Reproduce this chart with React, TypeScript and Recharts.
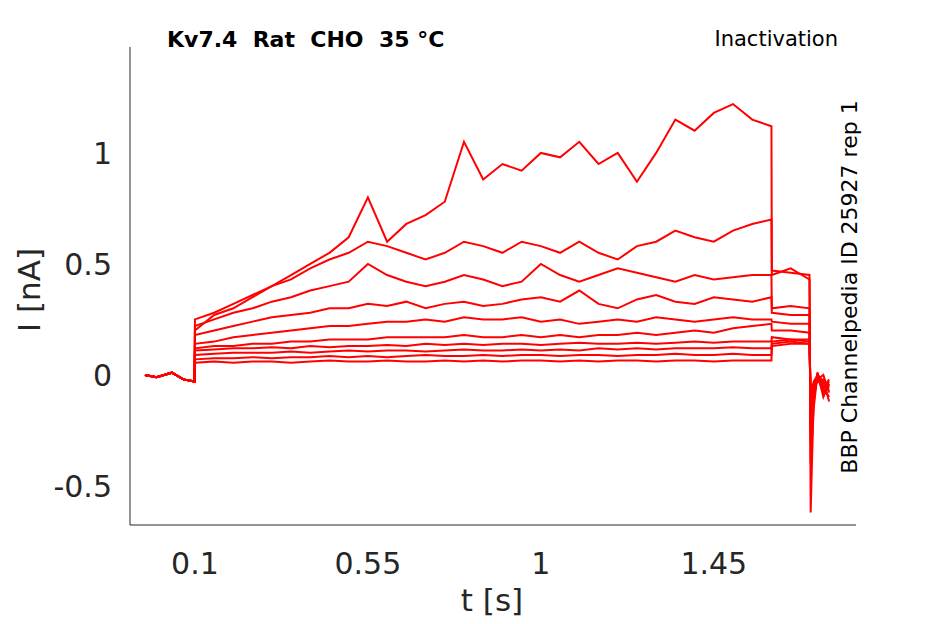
import React from 'react';
import { LineChart, Line, XAxis, YAxis } from 'recharts';

// sample times [s]: pre-pulse, test pulse (0.1..1.6 by 0.05), tail
const preTimes = [-0.03, 0.0, 0.04, 0.07, 0.099];
const pulseTimes = [0.1, 0.15, 0.2, 0.25, 0.3, 0.35, 0.4, 0.45, 0.5, 0.55, 0.6, 0.65, 0.7, 0.75, 0.8, 0.85, 0.9, 0.95, 1.0, 1.05, 1.1, 1.15, 1.2, 1.25, 1.3, 1.35, 1.4, 1.45, 1.5, 1.55, 1.6];
const tailTimes = [1.601, 1.65, 1.699, 1.702, 1.71, 1.72, 1.735, 1.75];

const preValues = [0.0, -0.01, 0.01, -0.02, -0.03];

// current [nA] during test pulse, one array per trace
const pulseValues = [
  [0.2, 0.27, 0.3, 0.35, 0.4, 0.45, 0.5, 0.55, 0.62, 0.8, 0.6, 0.68, 0.72, 0.78, 1.05, 0.88, 0.95, 0.92, 1.0, 0.98, 1.05, 0.95, 1.0, 0.87, 1.0, 1.15, 1.1, 1.18, 1.22, 1.15, 1.12],
  [0.25, 0.28, 0.32, 0.36, 0.4, 0.43, 0.48, 0.52, 0.55, 0.6, 0.58, 0.55, 0.52, 0.55, 0.6, 0.58, 0.55, 0.6, 0.58, 0.55, 0.6, 0.55, 0.52, 0.58, 0.6, 0.65, 0.62, 0.6, 0.65, 0.68, 0.7],
  [0.22, 0.25, 0.28, 0.3, 0.33, 0.35, 0.38, 0.4, 0.42, 0.5, 0.45, 0.42, 0.4, 0.42, 0.45, 0.43, 0.4, 0.42, 0.5, 0.45, 0.42, 0.45, 0.48, 0.46, 0.44, 0.42, 0.45, 0.43, 0.44, 0.45, 0.45],
  [0.18, 0.2, 0.22, 0.24, 0.26, 0.27, 0.28, 0.3, 0.3, 0.32, 0.31, 0.33, 0.3, 0.32, 0.33, 0.31, 0.32, 0.34, 0.35, 0.33, 0.38, 0.32, 0.3, 0.34, 0.36, 0.33, 0.32, 0.35, 0.34, 0.33, 0.35],
  [0.14, 0.15, 0.17, 0.18, 0.19, 0.2, 0.21, 0.22, 0.22, 0.23, 0.24, 0.24, 0.25, 0.24, 0.26, 0.25, 0.25, 0.26, 0.24, 0.25, 0.23, 0.24, 0.25, 0.24, 0.26, 0.25, 0.24, 0.25, 0.26, 0.25, 0.25],
  [0.12, 0.13, 0.13, 0.14, 0.14, 0.15, 0.15, 0.16, 0.16, 0.16, 0.17, 0.17, 0.17, 0.17, 0.18, 0.17, 0.17, 0.18, 0.17, 0.18, 0.17, 0.18, 0.18, 0.19, 0.18, 0.19, 0.2, 0.19, 0.21, 0.22, 0.23],
  [0.11, 0.115, 0.12, 0.12, 0.125, 0.12, 0.13, 0.125, 0.13, 0.13, 0.135, 0.13, 0.14, 0.135, 0.14, 0.135, 0.14, 0.14, 0.135, 0.14, 0.145, 0.14, 0.14, 0.145, 0.14, 0.145, 0.15, 0.145, 0.15, 0.15, 0.15],
  [0.09, 0.095, 0.1, 0.1, 0.1, 0.105, 0.1, 0.105, 0.11, 0.105, 0.11, 0.11, 0.105, 0.11, 0.115, 0.11, 0.11, 0.115, 0.11, 0.115, 0.11, 0.12, 0.115, 0.12, 0.115, 0.12, 0.12, 0.12, 0.125, 0.12, 0.12],
  [0.07, 0.075, 0.075, 0.08, 0.075, 0.08, 0.08, 0.085, 0.08, 0.085, 0.08, 0.085, 0.09, 0.085, 0.085, 0.09, 0.085, 0.09, 0.09, 0.085, 0.09, 0.09, 0.085, 0.09, 0.09, 0.095, 0.09, 0.09, 0.095, 0.09, 0.09],
  [0.055, 0.06, 0.055, 0.06, 0.06, 0.055, 0.06, 0.065, 0.06, 0.06, 0.065, 0.06, 0.06, 0.065, 0.06, 0.065, 0.06, 0.065, 0.065, 0.06, 0.065, 0.06, 0.065, 0.065, 0.06, 0.065, 0.065, 0.06, 0.065, 0.065, 0.065],
];

const tailValues = [
  [0.47, 0.46, 0.45, -0.62, -0.1, 0.0, -0.06, -0.1],
  [0.45, 0.48, 0.43, -0.4, -0.15, 0.01, -0.08, -0.05],
  [0.3, 0.31, 0.3, -0.3, -0.05, -0.02, 0.0, -0.08],
  [0.28, 0.27, 0.27, -0.25, -0.12, 0.01, -0.1, -0.04],
  [0.24, 0.23, 0.23, -0.2, -0.06, -0.03, -0.02, -0.12],
  [0.2, 0.2, 0.19, -0.18, -0.1, 0.0, -0.05, -0.06],
  [0.17, 0.16, 0.16, -0.15, -0.04, -0.01, -0.08, -0.03],
  [0.15, 0.16, 0.15, -0.12, -0.08, 0.0, -0.03, -0.07],
  [0.14, 0.15, 0.14, -0.1, -0.05, -0.02, -0.06, -0.02],
  [0.13, 0.14, 0.14, -0.08, -0.03, 0.0, -0.04, -0.05],
];

const xTicks = [0.1, 0.55, 1, 1.45];
const yTicks = [-0.5, 0, 0.5, 1];

const allTimes = [...preTimes, ...pulseTimes, ...tailTimes];
const data = allTimes.map((t, i) => {
  const row: Record<string, number> = { t };
  pulseValues.forEach((_, k) => {
    const full = [...preValues, ...pulseValues[k], ...tailValues[k]];
    row['s' + k] = full[i];
  });
  return row;
});

const font = 'DejaVu Sans, sans-serif';
const ink = '#262626';

export default function App() {
  return (
    <div style={{ position: 'relative', width: 945, height: 624, margin: -8, background: '#fff', overflow: 'hidden' }}>
      <LineChart width={945} height={624} data={data} margin={{ top: 47, right: 89, bottom: 0, left: 0 }}>
        <XAxis dataKey="t" type="number" domain={[-0.069, 1.82]} ticks={xTicks} allowDataOverflow
          tickLine={false} tickMargin={22} height={99} stroke={ink}
          tick={{ fill: ink, fontSize: 30, fontFamily: font }} />
        <YAxis type="number" domain={[-0.676, 1.477]} ticks={yTicks} allowDataOverflow
          tickLine={false} tickMargin={12} width={130} stroke={ink}
          tick={{ fill: ink, fontSize: 30, fontFamily: font }} />
        {pulseValues.map((_, k) => (
          <Line key={k} dataKey={'s' + k} type="linear" stroke="#ff0000" strokeWidth={2}
            dot={false} isAnimationActive={false} />
        ))}
      </LineChart>
      <svg width={945} height={624} style={{ position: 'absolute', left: 0, top: 0, pointerEvents: 'none', whiteSpace: 'pre' }}>
        <text x={167} y={47} fontFamily={font} fontSize={22} fontWeight="bold" fill="#000" xmlSpace="preserve">Kv7.4  Rat  CHO  35 °C</text>
        <text x={838} y={46} textAnchor="end" fontFamily={font} fontSize={21} fill="#000">Inactivation</text>
        <text transform="translate(857,287) rotate(-90)" textAnchor="middle" fontFamily={font} fontSize={22} fill="#000">BBP Channelpedia ID 25927 rep 1</text>
        <text x={492} y={611} textAnchor="middle" fontFamily={font} fontSize={31} fill={ink}>t [s]</text>
        <text transform="translate(40,290) rotate(-90)" textAnchor="middle" fontFamily={font} fontSize={31} fill={ink}>I [nA]</text>
      </svg>
    </div>
  );
}
